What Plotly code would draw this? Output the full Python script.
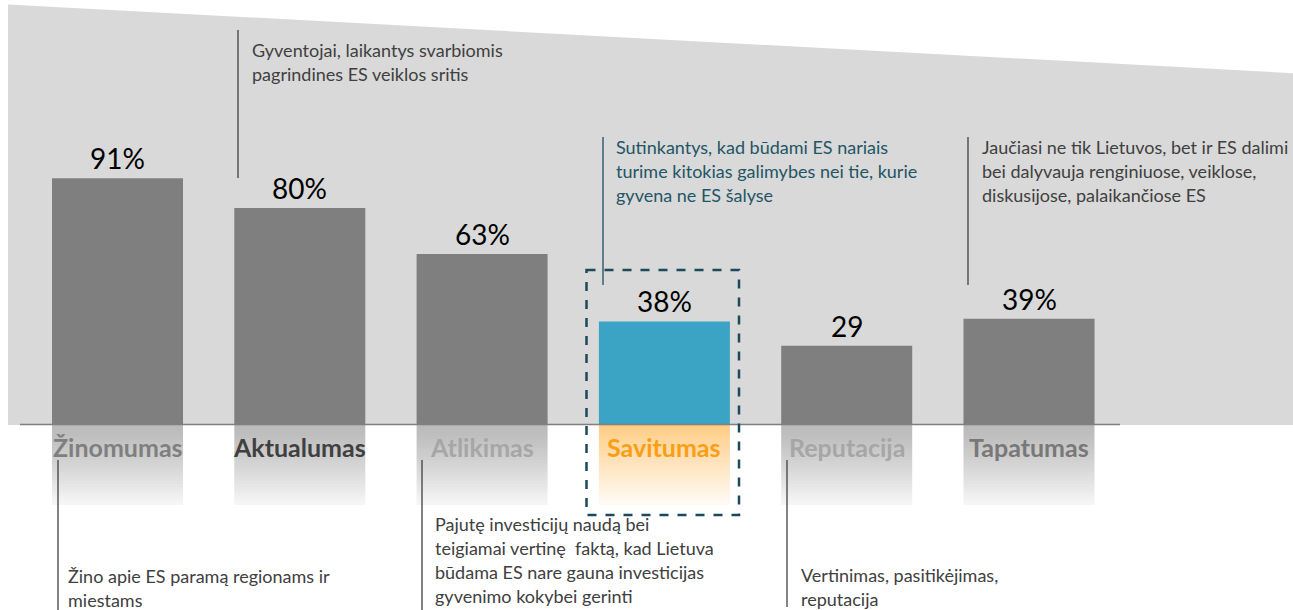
import plotly.graph_objects as go

# ---------------- data ----------------
categories = ["Žinomumas", "Aktualumas", "Atlikimas", "Savitumas", "Reputacija", "Tapatumas"]
values = [91, 80, 63, 38, 29, 39]
value_labels = ["91%", "80%", "63%", "38%", "29", "39%"]
bar_colors = ["#7F7F7F", "#7F7F7F", "#7F7F7F", "#3BA3C3", "#7F7F7F", "#7F7F7F"]
label_colors = ["#7F7F7F", "#404040", "#A6A6A6", "#FA9E13", "#A6A6A6", "#787878"]
highlight = [False, False, False, True, False, False]

notes_top = [
    (["Gyventojai, laikantys svarbiomis", "pagrindines ES veiklos sritis"], 238, 30, 178, 250, 50, "#404040", "#404040"),
    (["Sutinkantys, kad būdami ES nariais", "turime kitokias galimybes nei tie, kurie", "gyvena ne ES šalyse"], 603, 137, 285, 614, 147, "#1F4E5F", "#235565"),
    (["Jaučiasi ne tik Lietuvos, bet ir ES dalimi", "bei dalyvauja renginiuose, veiklose,", "diskusijose, palaikančiose ES"], 968, 137, 285, 980, 147, "#404040", "#404040"),
]
notes_bottom = [
    (["Žino apie ES paramą regionams ir", "miestams"], 58, 460, 610, 66, 576, "#404040", "#404040"),
    (["Pajutę investicijų naudą bei", "teigiamai vertinę\u00a0 faktą, kad Lietuva", "būdama ES nare gauna investicijas", "gyvenimo kokybei gerinti"], 422, 460, 610, 433, 524, "#404040", "#404040"),
    (["Vertinimas, pasitikėjimas,", "reputacija"], 787, 460, 607, 799, 575, "#404040", "#404040"),
]

# ---------------- layout geometry (page pixels) ----------------
W, H = 1293, 610
PX_PER_UNIT = 2.7
BASE_PX = 424
STEP_PX = 182.3
C0_PX = 117.5
FONT = "Lato, 'Open Sans', sans-serif"


def px(x):
    return x / W


def py(y):
    return 1 - y / H


x_range = [-C0_PX / STEP_PX, (W - C0_PX) / STEP_PX]
y_range = [-(H - BASE_PX) / PX_PER_UNIT, BASE_PX / PX_PER_UNIT]
bar_w = 131 / STEP_PX

fig = go.Figure()

# reflection gradient below the baseline
n_strips = 27
depth = 81 / PX_PER_UNIT
step = depth / n_strips


def mix(c1, c2, t):
    return "rgb(%d,%d,%d)" % tuple(round(a + (b - a) * t) for a, b in zip(c1, c2))


for k in range(n_strips):
    t = k / (n_strips - 1)
    cols = []
    for h in highlight:
        if h:
            cols.append(mix((255, 203, 130), (255, 250, 244), t ** 0.9))
        else:
            cols.append(mix((186, 186, 186), (246, 246, 246), t ** 1.2))
    fig.add_trace(go.Bar(
        x=categories, y=[-step] * len(categories), base=[-k * step] * len(categories),
        width=bar_w, marker=dict(color=cols, line=dict(width=0)),
        hoverinfo="skip", showlegend=False,
    ))

# main bars
fig.add_trace(go.Bar(
    x=categories, y=values, width=bar_w,
    marker=dict(color=bar_colors, line=dict(width=0)),
    showlegend=False,
))

annotations = []
# value labels
for c, v, t in zip(categories, values, value_labels):
    annotations.append(dict(x=c, y=v, xref="x", yref="y", text=t, showarrow=False,
                            yanchor="middle", yshift=20,
                            font=dict(family=FONT, size=28, color="#000000")))
# category labels
for c, col in zip(categories, label_colors):
    annotations.append(dict(x=c, y=0, xref="x", yref="y", text="<b>%s</b>" % c, showarrow=False,
                            yanchor="middle", yshift=-23,
                            font=dict(family=FONT, size=25, color=col)))

shapes = []
# gray background
pts = [(8, 4.4), (W, 73.2), (W, 425), (8, 425)]
path = "M " + " L ".join("%f,%f" % (px(a), py(b)) for a, b in pts) + " Z"
shapes.append(dict(type="path", path=path, xref="paper", yref="paper",
                   fillcolor="#D9D9D9", line=dict(width=0), layer="below"))
# baseline
shapes.append(dict(type="line", xref="paper", yref="paper", x0=px(20), x1=px(1120),
                   y0=py(424.5), y1=py(424.5), line=dict(color="#7F7F7F", width=1.5), layer="above"))
# dashed highlight box
shapes.append(dict(type="rect", xref="paper", yref="paper", x0=px(586.5), x1=px(739),
                   y0=py(270), y1=py(515), line=dict(color="#1B4A5A", width=2.5, dash="dash"),
                   fillcolor="rgba(0,0,0,0)", layer="above"))

for lines, lx, ly0, ly1, tx, ty, lcol, tcol in notes_top + notes_bottom:
    shapes.append(dict(type="line", xref="paper", yref="paper", x0=px(lx), x1=px(lx),
                       y0=py(ly0), y1=py(ly1), line=dict(color=lcol, width=1.3)))
    for i, ln in enumerate(lines):
        annotations.append(dict(x=px(tx), y=py(ty + i * 24), xref="paper", yref="paper",
                                text=ln, showarrow=False, xanchor="left", yanchor="middle",
                                font=dict(family=FONT, size=18, color=tcol)))

fig.update_layout(
    width=W, height=H, margin=dict(l=0, r=0, t=0, b=0),
    paper_bgcolor="white", plot_bgcolor="rgba(0,0,0,0)",
    barmode="overlay", hovermode=False,
    xaxis=dict(type="category", categoryorder="array", categoryarray=categories,
               range=x_range, visible=False, fixedrange=True),
    yaxis=dict(range=y_range, visible=False, fixedrange=True),
    shapes=shapes, annotations=annotations,
    showlegend=False,
)

fig.write_html(
    "out.html",
    config={"displayModeBar": False},
    post_script="document.body.style.margin='0px';document.documentElement.style.overflow='hidden';",
)
